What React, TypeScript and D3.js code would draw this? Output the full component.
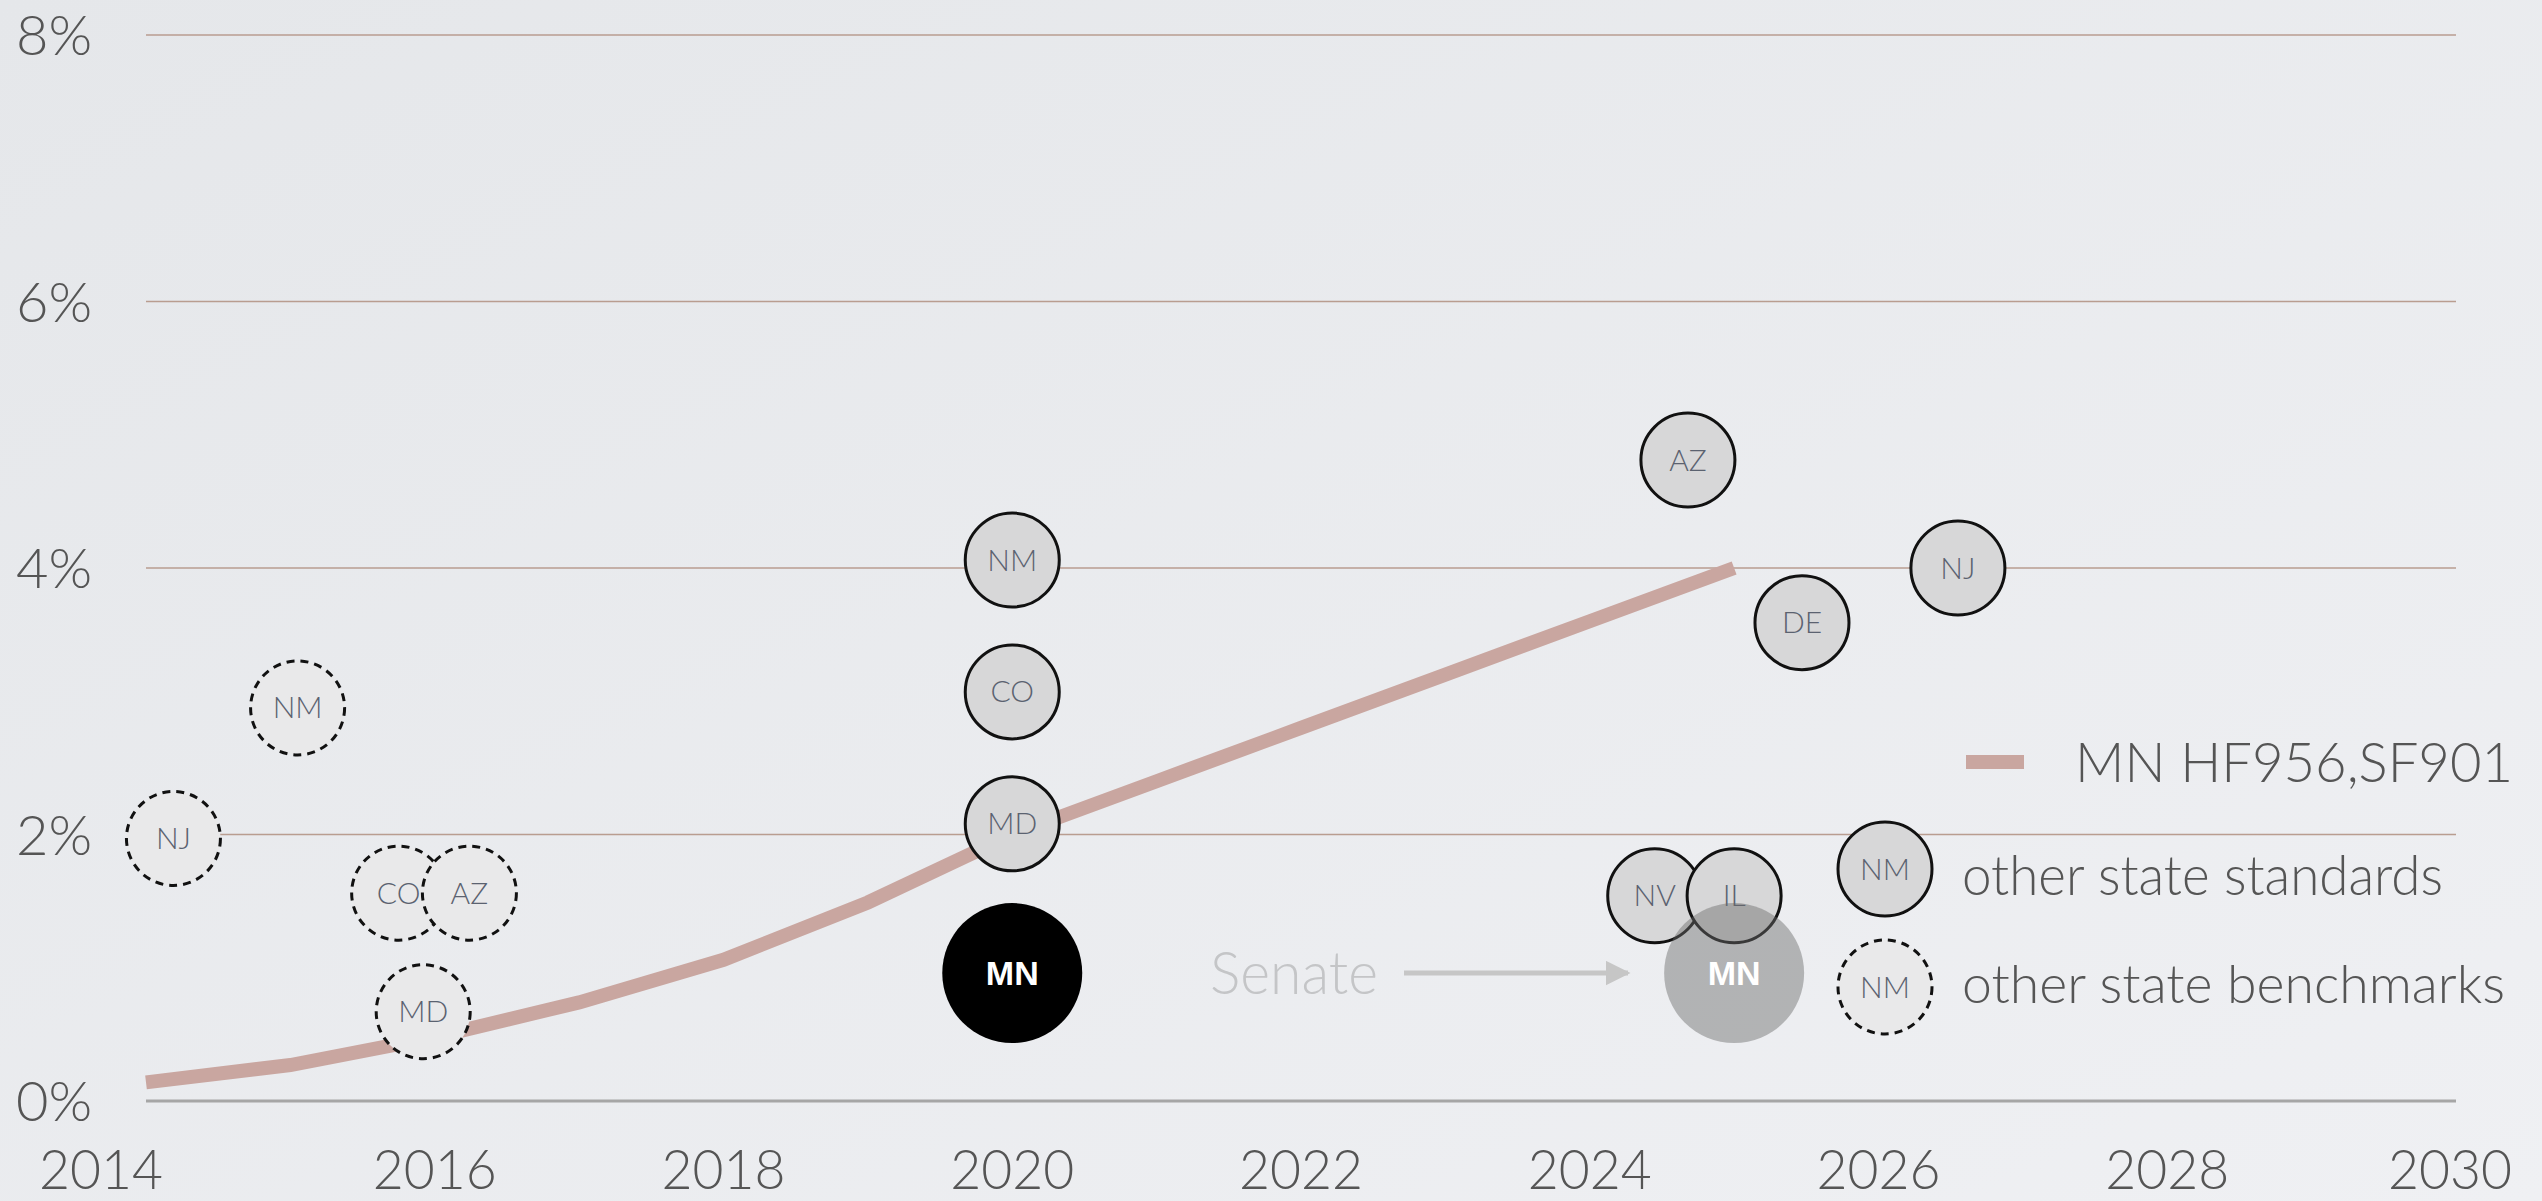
import * as d3 from "d3";

const W = 2542;
const H = 1201;

// MN HF956,SF901 schedule (percent)
const lineYears = [2014, 2015, 2016, 2017, 2018, 2019, 2020, 2021, 2022, 2023, 2024, 2025];
const lineValues = [0.14, 0.27, 0.48, 0.74, 1.06, 1.49, 2.0, 2.4, 2.8, 3.2, 3.6, 4.0];

// other state standards (solid circles)
const stdStates = ["NM", "CO", "MD", "AZ", "DE", "NJ", "NV", "IL"];
const stdYears = [2020, 2020, 2020, 2024.68, 2025.47, 2026.55, 2024.45, 2025.0];
const stdValues = [4.06, 3.07, 2.08, 4.81, 3.59, 4.0, 1.54, 1.54];

// other state benchmarks (dashed circles)
const benchStates = ["NJ", "NM", "CO", "AZ", "MD"];
const benchYears = [2014.19, 2015.05, 2015.75, 2016.24, 2015.92];
const benchValues = [1.97, 2.95, 1.56, 1.56, 0.67];

// MN house (black) and senate (grey)
const mnYears = [2020, 2025];
const mnValues = [0.96, 0.96];

const xTicks = [2014, 2016, 2018, 2020, 2022, 2024, 2026, 2028, 2030];
const yTicks = [0, 2, 4, 6, 8];

const FONT = "Lato, 'Open Sans', sans-serif";
const TEXT = "#555555";
const LINE = "#c9a6a0";

export default function App() {
  const x = d3.scaleLinear().domain([2014, 2030]).range([146, 2456]);
  const y = d3.scaleLinear().domain([0, 8]).range([1101, 35]);

  const line = d3
    .line<number>()
    .x((d, i) => x(lineYears[i]))
    .y((d) => y(d));

  const r = 48;
  const rMN = 70;

  return (
    <svg width={W} height={H} style={{ position: "absolute", left: 0, top: 0, display: "block" }}>
      <defs>
        <linearGradient id="bg" x1="0" y1="0" x2="1" y2="1">
          <stop offset="0" stopColor="#e5e7ea" />
          <stop offset="1" stopColor="#eff0f3" />
        </linearGradient>
        <marker id="arrow" viewBox="0 0 10 10" refX="9" refY="5" markerWidth="5" markerHeight="5" orient="auto">
          <path d="M0,0 L10,5 L0,10 z" fill="#c6c6c6" />
        </marker>
      </defs>
      <rect width={W} height={H} fill="url(#bg)" />

      {/* gridlines */}
      {yTicks.map((t) => (
        <line
          key={"g" + t}
          x1={x(2014)}
          x2={x(2030)}
          y1={y(t)}
          y2={y(t)}
          stroke={t === 0 ? "#a6a6a6" : "#b99d90"}
          strokeWidth={t === 0 ? 3 : 1.5}
        />
      ))}

      {/* y labels */}
      {yTicks.map((t) => (
        <text key={"y" + t} x={16} y={y(t) + 20} fontSize={56} fontFamily={FONT} fontWeight={300} fill={TEXT}>
          {t + "%"}
        </text>
      ))}

      {/* x labels */}
      {xTicks.map((t, i) => (
        <text
          key={"x" + t}
          x={x(t) + (i === 0 ? -45 : i === xTicks.length - 1 ? -6 : 0)}
          y={1189}
          textAnchor="middle"
          fontSize={55}
          fontFamily={FONT}
          fontWeight={300}
          fill={TEXT}
          textLength={124}
          lengthAdjust="spacingAndGlyphs"
        >
          {t}
        </text>
      ))}

      {/* MN bill line */}
      <path d={line(lineValues) || ""} fill="none" stroke={LINE} strokeWidth={14} />

      {/* benchmarks */}
      {benchStates.map((s, i) => (
        <g key={"b" + i} transform={`translate(${x(benchYears[i])},${y(benchValues[i])})`}>
          <circle r={r - 1} fill="#e9e9ea" stroke="#111" strokeWidth={3} strokeDasharray="8 6" />
          <text dy="0.35em" textAnchor="middle" fontSize={30} fontFamily={FONT} fontWeight={300} fill="#5b6270">
            {s}
          </text>
        </g>
      ))}

      {/* standards */}
      {stdStates.map((s, i) => (
        <g key={"s" + i} transform={`translate(${x(stdYears[i])},${y(stdValues[i])})`}>
          <circle r={r - 1} fill="#d7d7d8" stroke="#111" strokeWidth={3} />
          <text dy="0.35em" textAnchor="middle" fontSize={30} fontFamily={FONT} fontWeight={300} fill="#5b6270">
            {s}
          </text>
        </g>
      ))}

      {/* MN house */}
      <g transform={`translate(${x(mnYears[0])},${y(mnValues[0])})`}>
        <circle r={rMN} fill="#000" />
        <text dy="0.35em" textAnchor="middle" fontSize={34} fontFamily="'Liberation Sans', Arial, sans-serif" fontWeight={700} fill="#fff">
          MN
        </text>
      </g>

      {/* MN senate */}
      <g transform={`translate(${x(mnYears[1])},${y(mnValues[1])})`}>
        <circle r={rMN} fill="#6a6a6a" fillOpacity={0.45} />
        <text dy="0.35em" textAnchor="middle" fontSize={34} fontFamily="'Liberation Sans', Arial, sans-serif" fontWeight={700} fill="#fff">
          MN
        </text>
      </g>

      {/* Senate annotation */}
      <text
        x={1378}
        y={y(mnValues[1]) + 21}
        textAnchor="end"
        fontSize={60}
        fontFamily={FONT}
        fontWeight={300}
        fill="#c4c5c7"
        textLength={168}
        lengthAdjust="spacingAndGlyphs"
      >
        Senate
      </text>
      <line
        x1={1404}
        x2={1628}
        y1={y(mnValues[1])}
        y2={y(mnValues[1])}
        stroke="#c6c6c6"
        strokeWidth={5}
        markerEnd="url(#arrow)"
      />

      {/* legend */}
      <line x1={1966} x2={2024} y1={762} y2={762} stroke={LINE} strokeWidth={14} />
      <text
        x={2075}
        y={782}
        fontSize={56}
        fontFamily={FONT}
        fontWeight={300}
        fill={TEXT}
        textLength={438}
        lengthAdjust="spacingAndGlyphs"
      >
        MN HF956,SF901
      </text>

      <g transform="translate(1885,869)">
        <circle r={r - 1} fill="#d7d7d8" stroke="#111" strokeWidth={3} />
        <text dy="0.35em" textAnchor="middle" fontSize={30} fontFamily={FONT} fontWeight={300} fill="#5b6270">
          NM
        </text>
      </g>
      <text
        x={1962}
        y={895}
        fontSize={56}
        fontFamily={FONT}
        fontWeight={300}
        fill={TEXT}
        textLength={481}
        lengthAdjust="spacingAndGlyphs"
      >
        other state standards
      </text>

      <g transform="translate(1885,987)">
        <circle r={r - 1} fill="#e9e9ea" stroke="#111" strokeWidth={3} strokeDasharray="8 6" />
        <text dy="0.35em" textAnchor="middle" fontSize={30} fontFamily={FONT} fontWeight={300} fill="#5b6270">
          NM
        </text>
      </g>
      <text
        x={1962}
        y={1003}
        fontSize={54}
        fontFamily={FONT}
        fontWeight={300}
        fill={TEXT}
        textLength={543}
        lengthAdjust="spacingAndGlyphs"
      >
        other state benchmarks
      </text>
    </svg>
  );
}
